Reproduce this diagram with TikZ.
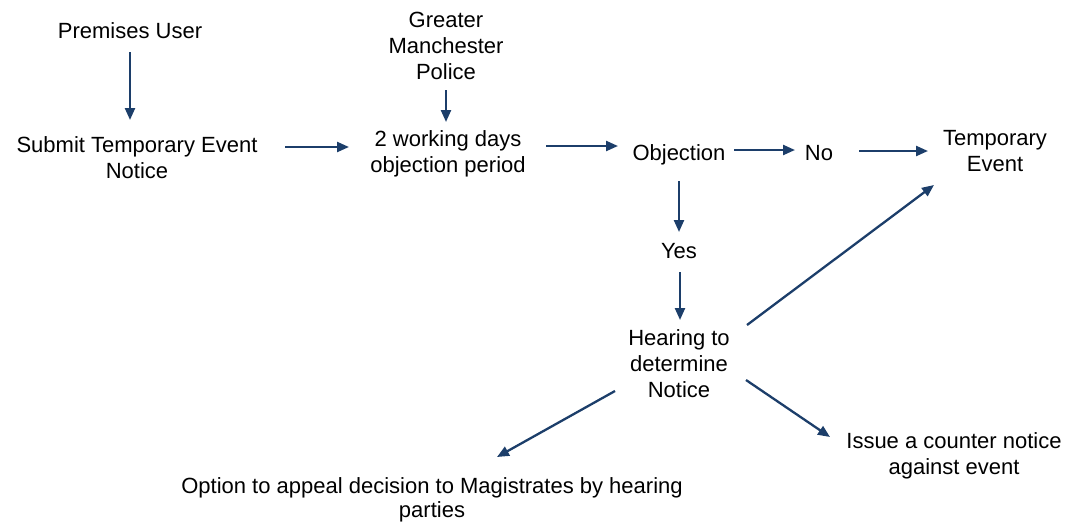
\documentclass[tikz,border=0pt]{standalone}
\usepackage{fontspec}
\setmainfont{Liberation Sans}
\usetikzlibrary{arrows.meta}
\definecolor{navy}{RGB}{28,62,106}
\begin{document}
\begin{tikzpicture}[x=1pt,y=-1pt,
  lbl/.style={inner sep=0pt,align=center,font=\fontsize{22}{26}\selectfont},
  arr/.style={draw=navy,line width=2.3pt,-{Triangle[length=12pt,width=10pt]},fill=navy}]
\useasboundingbox (0,0) rectangle (1072,522);
\node[lbl] (pu) at (130,31) {Premises User};
\node[lbl] (submit) at (137,158) {Submit Temporary Event\\Notice};
\node[lbl] (gmp) at (446,46) {Greater\\Manchester\\Police};
\node[lbl] (wd) at (448,154) {2 working days\\objection period};
\node[lbl] (obj) at (679,155) {Objection};
\node[lbl] (no) at (819,153) {No};
\node[lbl] (temp) at (995,151) {Temporary\\Event};
\node[lbl] (yes) at (679,251) {Yes};
\node[lbl] (hear) at (679,364) {Hearing to\\determine\\Notice};
\node[lbl,font=\fontsize{22}{24}\selectfont] (opt) at (432,500) {Option to appeal decision to Magistrates by hearing\\parties};
\node[lbl] (issue) at (954,456) {Issue a counter notice\\against event};

\draw[arr] ([shift={(0,21)}]pu.center) -- ([shift={(-7,-38)}]submit.center);
\draw[arr] ([shift={(148,-11)}]submit.center) -- ([shift={(-99,-7)}]wd.center);
\draw[arr] ([shift={(0,44)}]gmp.center) -- ([shift={(-2,-32)}]wd.center);
\draw[arr] ([shift={(98,-8)}]wd.center) -- ([shift={(-61,-9)}]obj.center);
\draw[arr] ([shift={(55,-5)}]obj.center) -- ([shift={(-24,-3)}]no.center);
\draw[arr] ([shift={(40,-2)}]no.center) -- ([shift={(-67,0)}]temp.center);
\draw[arr] ([shift={(0,26)}]obj.center) -- ([shift={(0,-19)}]yes.center);
\draw[arr] ([shift={(1,21)}]yes.center) -- ([shift={(1,-44)}]hear.center);
\draw[arr] ([shift={(68,-39)}]hear.center) -- ([shift={(-61,34)}]temp.center);
\draw[arr] ([shift={(-64,27)}]hear.center) -- ([shift={(65,-43)}]opt.center);
\draw[arr] ([shift={(67,16)}]hear.center) -- ([shift={(-124,-19)}]issue.center);
\end{tikzpicture}
\end{document}
